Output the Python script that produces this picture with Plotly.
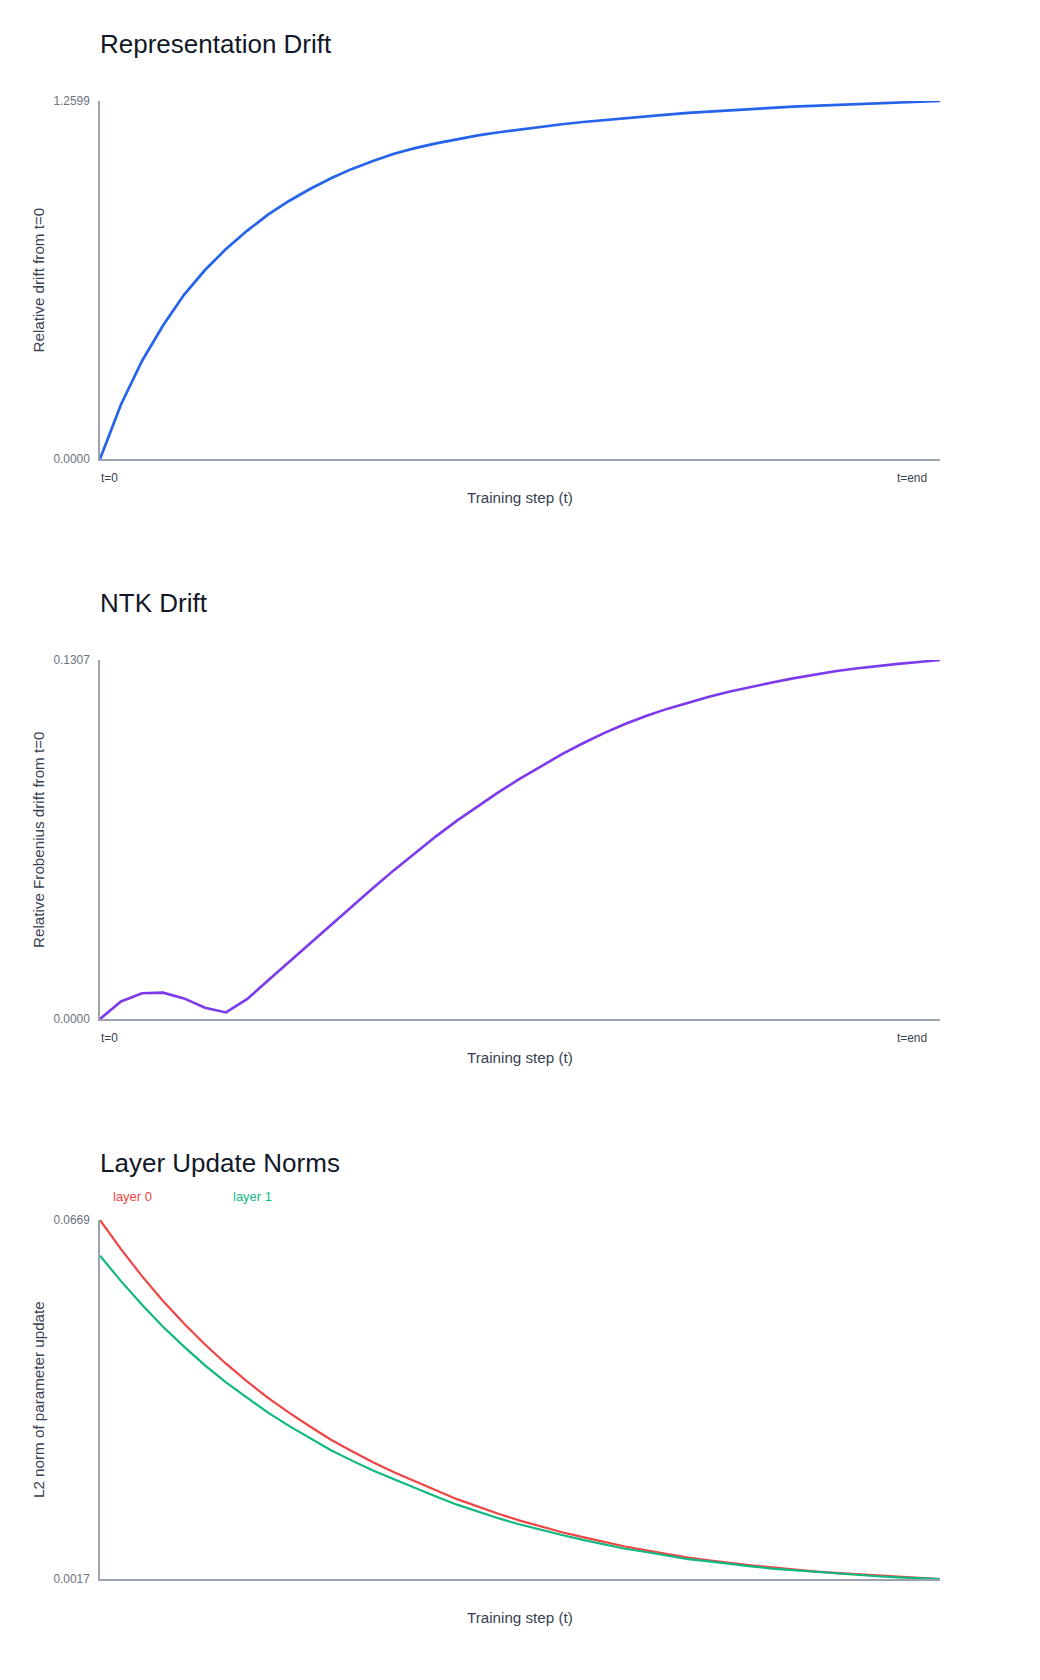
import plotly.graph_objects as go

# ---------------- data ----------------
steps = list(range(41))
x_tick_labels = ["t=0", "t=end"]

rep_drift = [0.000, 0.192, 0.345, 0.470, 0.578, 0.665, 0.739, 0.803, 0.860, 0.908,
             0.950, 0.988, 1.021, 1.049, 1.074, 1.094, 1.111, 1.126, 1.139, 1.150,
             1.160, 1.170, 1.178, 1.186, 1.193, 1.200, 1.206, 1.212, 1.218, 1.223,
             1.228, 1.232, 1.236, 1.240, 1.243, 1.246, 1.249, 1.252, 1.255, 1.258,
             1.2599]

ntk_drift = [0.0000, 0.0064, 0.0094, 0.0096, 0.0075, 0.0041, 0.0024, 0.0072, 0.0140, 0.0208,
             0.0276, 0.0344, 0.0411, 0.0477, 0.0542, 0.0605, 0.0665, 0.0722, 0.0776, 0.0827,
             0.0875, 0.0921, 0.0964, 0.1004, 0.1041, 0.1074, 0.1103, 0.1129, 0.1152, 0.1173,
             0.1192, 0.1209, 0.1225, 0.1240, 0.1254, 0.1266, 0.1276, 0.1285, 0.1293, 0.1300,
             0.1307]

layer0_norm = [0.0669, 0.0616, 0.0567, 0.0522, 0.0481, 0.0443, 0.0408, 0.0376, 0.0346, 0.0319,
               0.0294, 0.0270, 0.0249, 0.0229, 0.0211, 0.0194, 0.0178, 0.0162, 0.0148, 0.0135,
               0.0123, 0.0112, 0.0102, 0.0093, 0.0084, 0.0076, 0.0069, 0.0062, 0.0056, 0.0051,
               0.0046, 0.0042, 0.0038, 0.0034, 0.0031, 0.0028, 0.0026, 0.0023, 0.0021, 0.0019,
               0.0017]

layer1_norm = [0.0604, 0.0558, 0.0515, 0.0475, 0.0439, 0.0405, 0.0374, 0.0346, 0.0319, 0.0295,
               0.0273, 0.0251, 0.0232, 0.0214, 0.0198, 0.0182, 0.0167, 0.0152, 0.0139, 0.0127,
               0.0116, 0.0106, 0.0097, 0.0088, 0.0080, 0.0072, 0.0066, 0.0059, 0.0053, 0.0049,
               0.0044, 0.0040, 0.0036, 0.0033, 0.0030, 0.0027, 0.0025, 0.0022, 0.0020, 0.0018,
               0.0017]

panel_titles = ["Representation Drift", "NTK Drift", "Layer Update Norms"]
y_titles = ["Relative drift from t=0", "Relative Frobenius drift from t=0",
            "L2 norm of parameter update"]
x_title = "Training step (t)"
legend_labels = ["layer 0", "layer 1"]

# ---------------- styling ----------------
W, H = 1040, 1680
FONT = "Liberation Sans, Arial, Helvetica, sans-serif"
AXIS_COLOR = "#9ca3af"
TICK_COLOR = "#6b7280"
LABEL_COLOR = "#374151"
TITLE_COLOR = "#111827"
BLUE, PURPLE, RED, GREEN = "#2563eb", "#7c3aed", "#ef4444", "#10b981"

PLOT_LEFT, PLOT_RIGHT = 100, 940
PANEL_TOPS = [101, 660, 1220]
PANEL_BOTTOMS = [459, 1019, 1579]


def px(x):
    return x / W


def py(y):
    return 1 - y / H


fig = go.Figure()

fig.add_trace(go.Scatter(x=steps, y=rep_drift, mode="lines",
                         line=dict(color=BLUE, width=2.7), xaxis="x", yaxis="y",
                         showlegend=False, hoverinfo="skip"))
fig.add_trace(go.Scatter(x=steps, y=ntk_drift, mode="lines",
                         line=dict(color=PURPLE, width=2.6), xaxis="x2", yaxis="y2",
                         showlegend=False, hoverinfo="skip"))
fig.add_trace(go.Scatter(x=steps, y=layer0_norm, mode="lines", name=legend_labels[0],
                         line=dict(color=RED, width=2.2), xaxis="x3", yaxis="y3",
                         showlegend=False, hoverinfo="skip"))
fig.add_trace(go.Scatter(x=steps, y=layer1_norm, mode="lines", name=legend_labels[1],
                         line=dict(color=GREEN, width=2.2), xaxis="x3", yaxis="y3",
                         showlegend=False, hoverinfo="skip"))

series_by_panel = [[rep_drift], [ntk_drift], [layer0_norm, layer1_norm]]

layout = dict(
    width=W, height=H, autosize=False,
    margin=dict(l=0, r=0, t=0, b=0, pad=0, autoexpand=False),
    paper_bgcolor="white", plot_bgcolor="white",
    font=dict(family=FONT, color=LABEL_COLOR),
    showlegend=False,
)

annotations = []
for k in range(3):
    sfx = "" if k == 0 else str(k + 1)
    top, bot = PANEL_TOPS[k], PANEL_BOTTOMS[k]
    vals = [v for s in series_by_panel[k] for v in s]
    lo, hi = min(vals), max(vals)
    layout["xaxis" + sfx] = dict(
        domain=[px(PLOT_LEFT), px(PLOT_RIGHT)], range=[steps[0], steps[-1]],
        anchor="y" + sfx, showline=True, linecolor=AXIS_COLOR, linewidth=1.6,
        showgrid=False, zeroline=False, ticks="", showticklabels=False, fixedrange=True,
        automargin=False,
    )
    layout["yaxis" + sfx] = dict(
        domain=[py(bot), py(top)], range=[lo, hi],
        anchor="x" + sfx, showline=True, linecolor=AXIS_COLOR, linewidth=1.6,
        showgrid=False, zeroline=False, ticks="",
        tickvals=[lo, hi], ticktext=[f"{lo:.4f}", f"{hi:.4f}"],
        tickfont=dict(size=11.9, color=TICK_COLOR, family=FONT),
        ticklabelstandoff=6, fixedrange=True, automargin=False,
    )
    annotations.append(dict(text=panel_titles[k], xref="paper", yref="paper",
                            x=px(PLOT_LEFT - 2), y=py(top - 57), xanchor="left", yanchor="middle",
                            showarrow=False, font=dict(size=26, color=TITLE_COLOR, family=FONT)))
    annotations.append(dict(text=y_titles[k], xref="paper", yref="paper",
                            x=px(38.5), y=py((top + bot) / 2), xanchor="center", yanchor="middle",
                            textangle=-90, showarrow=False,
                            font=dict(size=15.2, color=LABEL_COLOR, family=FONT)))
    annotations.append(dict(text=x_title, xref="paper", yref="paper",
                            x=px((PLOT_LEFT + PLOT_RIGHT) / 2), y=py(bot + 38),
                            xanchor="center", yanchor="middle", showarrow=False,
                            font=dict(size=15.2, color=LABEL_COLOR, family=FONT)))
    if k < 2:
        annotations.append(dict(text=x_tick_labels[0], xref="paper", yref="paper",
                                x=px(PLOT_LEFT - 1), y=py(bot + 19), xanchor="left", yanchor="middle",
                                showarrow=False, font=dict(size=11.9, color=LABEL_COLOR, family=FONT)))
        annotations.append(dict(text=x_tick_labels[1], xref="paper", yref="paper",
                                x=px(929), y=py(bot + 19), xanchor="right", yanchor="middle",
                                showarrow=False, font=dict(size=11.9, color=LABEL_COLOR, family=FONT)))

for lbl, col, xpos in zip(legend_labels, [RED, GREEN], [111, 231]):
    annotations.append(dict(text=lbl, xref="paper", yref="paper",
                            x=px(xpos), y=py(1196), xanchor="left", yanchor="middle",
                            showarrow=False, font=dict(size=13, color=col, family=FONT)))

layout["annotations"] = annotations
fig.update_layout(**layout)

fig.write_html(
    "out.html",
    config={"displayModeBar": False, "responsive": False},
    post_script="document.body.style.margin='0';document.body.style.padding='0';"
                "document.documentElement.style.margin='0';",
)
